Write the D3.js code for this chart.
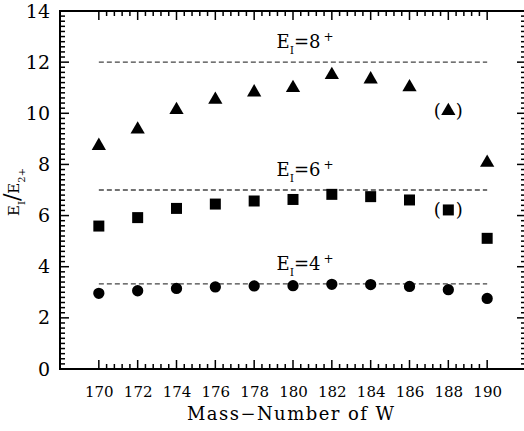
<!DOCTYPE html>
<html>
<head>
<meta charset="utf-8">
<script src="https://cdn.jsdelivr.net/npm/d3@7"></script>
<style>
  body { margin: 0; background: #fff; }
  text { font-family: "DejaVu Serif", serif; fill: #000; }
</style>
</head>
<body>
<script>
// mass numbers of the W isotopes
const massNumbers = [170, 172, 174, 176, 178, 180, 182, 184, 186, 188, 190];
// E(I)/E(2+) ratios
const ratio8 = [8.73, 9.37, 10.13, 10.53, 10.82, 10.99, 11.50, 11.33, 11.02, 10.09, 8.07];
const ratio6 = [5.59, 5.92, 6.28, 6.45, 6.57, 6.63, 6.83, 6.74, 6.61, 6.22, 5.11];
const ratio4 = [2.96, 3.06, 3.15, 3.21, 3.25, 3.26, 3.31, 3.30, 3.23, 3.10, 2.76];
// reference levels (rigid rotor) and their spin labels
const levelValues = [12, 7, 3.33];
const levelSpins = ["8", "6", "4"];
// tentative points drawn in parentheses
const tentative = [188];
const xTickValues = [170, 172, 174, 176, 178, 180, 182, 184, 186, 188, 190];
const yTickValues = [0, 2, 4, 6, 8, 10, 12, 14];

const canvWidth = 524, canvHeight = 431;
const margin = {left: 60, right: 526, top: 11, bottom: 369};

const svg = d3.select("body").append("svg")
    .attr("width", canvWidth)
    .attr("height", canvHeight);

const xScale = d3.scaleLinear().domain([168, 192]).range([margin.left, margin.right]);
const yScale = d3.scaleLinear().domain([0, 14]).range([margin.bottom, margin.top]);

// minor ticks: 4 between x majors, 9 between y majors
const xMinor = d3.range(170, 190.01, 0.4).filter(v => Math.abs(v / 2 - Math.round(v / 2)) > 0.01);
const yMinor = d3.range(0, 14.01, 0.2).filter(v => Math.abs(v / 2 - Math.round(v / 2)) > 0.01);

// tick labels via d3 axes (no tick lines, domain removed)
const xb = svg.append("g").attr("transform", `translate(0,${margin.bottom})`)
    .call(d3.axisBottom(xScale).tickValues(xTickValues).tickSize(0).tickPadding(17));
xb.select(".domain").remove();
xb.selectAll("text").attr("font-size", "15px").attr("font-family", "DejaVu Serif");

const yl = svg.append("g").attr("transform", `translate(${margin.left},0)`)
    .call(d3.axisLeft(yScale).tickValues(yTickValues).tickSize(0).tickPadding(10));
yl.select(".domain").remove();
yl.selectAll("text").attr("font-size", "19px").attr("font-family", "DejaVu Serif");

// inward tick marks on all four sides, drawn as thin filled bars
const tickW = 1.5;
const tickLayer = svg.append("g").attr("fill", "#000");
function addXTicks(values, len) {
    tickLayer.selectAll(null).data(values).enter().append("rect")
        .attr("x", d => xScale(d) - tickW / 2).attr("y", margin.bottom - len)
        .attr("width", tickW).attr("height", len);
    tickLayer.selectAll(null).data(values).enter().append("rect")
        .attr("x", d => xScale(d) - tickW / 2).attr("y", margin.top)
        .attr("width", tickW).attr("height", len);
}
function addYTicks(values, len) {
    tickLayer.selectAll(null).data(values).enter().append("rect")
        .attr("x", margin.left).attr("y", d => yScale(d) - tickW / 2)
        .attr("width", len).attr("height", tickW);
    tickLayer.selectAll(null).data(values).enter().append("rect")
        .attr("x", margin.right - len).attr("y", d => yScale(d) - tickW / 2)
        .attr("width", len).attr("height", tickW);
}
addXTicks(xTickValues, 9);
addXTicks(xMinor, 5);
addYTicks(yTickValues, 9);
addYTicks(yMinor, 5);

// frame
svg.append("rect")
    .attr("x", margin.left)
    .attr("y", margin.top)
    .attr("width", margin.right - margin.left)
    .attr("height", margin.bottom - margin.top)
    .attr("fill", "none")
    .attr("stroke", "#000")
    .attr("stroke-width", 2);

// dashed reference levels
svg.selectAll("line.level")
    .data(levelValues)
    .enter().append("line")
    .attr("class", "level")
    .attr("x1", xScale(170))
    .attr("x2", xScale(190))
    .attr("y1", d => yScale(d))
    .attr("y2", d => yScale(d))
    .attr("stroke", "#444")
    .attr("stroke-width", 1.4)
    .attr("stroke-dasharray", "5,3");

// level labels  E_I = n+
const labels = svg.selectAll("text.level-label")
    .data(levelValues)
    .enter().append("text")
    .attr("class", "level-label")
    .attr("x", xScale(179.15))
    .attr("y", d => yScale(d) - 14)
    .attr("font-size", "18px");
labels.append("tspan").text("E");
labels.append("tspan").attr("font-size", "11px").attr("dy", 6).text("I");
labels.append("tspan").attr("dy", -6).text((d, i) => "=" + levelSpins[i]);
labels.append("tspan").attr("font-size", "12px").attr("dy", -7).attr("dx", 3).text("+");

// data markers
const series = [
    {values: ratio8, type: d3.symbolTriangle, size: 88},
    {values: ratio6, type: d3.symbolSquare, size: 121},
    {values: ratio4, type: d3.symbolCircle, size: 100}
];
series.forEach(s => {
    svg.append("g").selectAll("path")
        .data(massNumbers)
        .enter().append("path")
        .attr("transform", (d, i) => `translate(${xScale(d)},${yScale(s.values[i])})`)
        .attr("d", d3.symbol().type(s.type).size(s.size))
        .attr("fill", "#000");
});

// parentheses round tentative triangles and squares
[ratio8, ratio6].forEach(vals => {
    tentative.forEach(m => {
        const i = massNumbers.indexOf(m);
        svg.append("text")
            .attr("x", xScale(m) - 11)
            .attr("y", yScale(vals[i]) + 6)
            .attr("font-size", "18px")
            .attr("text-anchor", "middle")
            .text("(");
        svg.append("text")
            .attr("x", xScale(m) + 11)
            .attr("y", yScale(vals[i]) + 6)
            .attr("font-size", "18px")
            .attr("text-anchor", "middle")
            .text(")");
    });
});

// x axis title
svg.append("text")
    .attr("x", 187)
    .attr("y", 420)
    .attr("font-size", "18px")
    .attr("textLength", 207)
    .attr("lengthAdjust", "spacing")
    .text("Mass\u2212Number of W");

// y axis title  E_I / E_2+
const yTitle = svg.append("text")
    .attr("transform", "translate(19,192) rotate(-90)")
    .attr("text-anchor", "middle")
    .attr("font-size", "15px");
yTitle.append("tspan").text("E");
yTitle.append("tspan").attr("font-size", "10px").attr("dy", 6).text("I");
yTitle.append("tspan").attr("dy", -6).attr("font-size", "22px").text("/");
yTitle.append("tspan").text("E");
yTitle.append("tspan").attr("font-size", "10px").attr("dy", 6).text("2+");
</script>
</body>
</html>
